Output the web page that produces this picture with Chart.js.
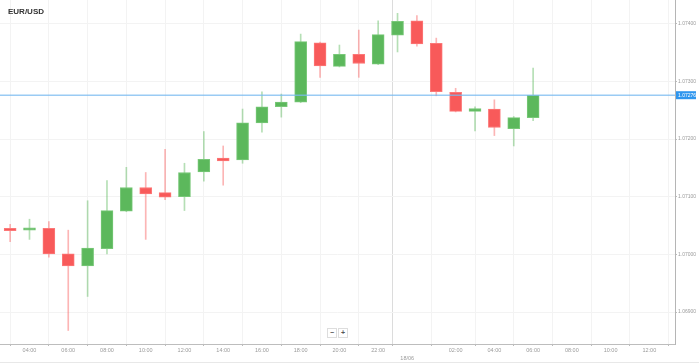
<!DOCTYPE html>
<html><head><meta charset="utf-8">
<script src="https://cdn.jsdelivr.net/npm/chart.js@4/dist/chart.umd.min.js"></script>
<style>
html,body{margin:0;padding:0;background:#fff;}
#wrap{position:relative;width:699px;height:362px;border-bottom:1px solid #e8e8e8;}
#title{position:absolute;left:8px;top:7px;line-height:9px;font:bold 8px "Liberation Sans",Arial,sans-serif;color:#333;}
.zb{position:absolute;top:328px;width:8px;height:8px;border:1px solid #ddd;background:#fff;font:bold 7px "Liberation Sans",sans-serif;color:#555;text-align:center;line-height:8px;}
canvas{display:block;}
</style></head>
<body><div id="wrap"><canvas id="c" width="699" height="362"></canvas><div id="title">EUR/USD</div><div class="zb" style="left:327px">−</div><div class="zb" style="left:338px">+</div></div>
<script>
// hours since 00:00 of 17/06 (03:00 .. 06:00 next day)
const hours  = [3,4,5,6,7,8,9,10,11,12,13,14,15,16,17,18,19,20,21,22,23,24,25,26,27,28,29,30];
const opens  = [1.07045,1.07042,1.07045,1.07001,1.06980,1.07010,1.07075,1.07116,1.07107,1.07100,1.07143,1.07167,1.07164,1.07228,1.07256,1.07264,1.07367,1.07326,1.07347,1.07330,1.07380,1.07405,1.07366,1.07281,1.07248,1.07252,1.07218,1.07237];
const highs  = [1.07052,1.07061,1.07057,1.07042,1.07093,1.07128,1.07151,1.07142,1.07182,1.07158,1.07213,1.07188,1.07252,1.07282,1.07278,1.07382,1.07368,1.07363,1.07389,1.07405,1.07418,1.07414,1.07375,1.07288,1.07256,1.07268,1.07239,1.07323];
const lows   = [1.07022,1.07026,1.06995,1.06868,1.06927,1.07001,1.07074,1.07026,1.07095,1.07076,1.07127,1.07120,1.07158,1.07212,1.07238,1.07263,1.07307,1.07325,1.07307,1.07329,1.07351,1.07361,1.07275,1.07247,1.07214,1.07206,1.07188,1.07232];
const closes = [1.07041,1.07046,1.07001,1.06980,1.07011,1.07076,1.07116,1.07105,1.07099,1.07142,1.07165,1.07162,1.07228,1.07256,1.07264,1.07369,1.07327,1.07347,1.07331,1.07381,1.07404,1.07365,1.07282,1.07248,1.07253,1.07220,1.07237,1.07276];
const currentPrice = 1.07276;
const xTickValues = [4,6,8,10,12,14,16,18,20,22,23.5,26,28,30,32,34,36];
const dayBreak = 23.5;
const dayBreakLabel = '18/06';
const yTickValues = [1.069,1.070,1.071,1.072,1.073,1.074];

const X_MIN = 2.477, X_MAX = 37.325, Y_MIN = 1.068446, Y_MAX = 1.074411;

const up = hours.map((h,i)=>closes[i]>=opens[i]);
const bodyCol = up.map(u=>u?'#5cb85c':'#f85a5a');
const bodyBorder = up.map(u=>u?'rgba(120,200,120,1)':'rgba(252,120,120,1)');
const wickCol = up.map(u=>u?'rgba(92,184,92,0.45)':'rgba(248,90,90,0.45)');

const wickData = hours.map((h,i)=>({x:h,y:[lows[i],highs[i]]}));
const bodyData = hours.map((h,i)=>({x:h,y:[opens[i],closes[i]]}));

const priceLabel = {
  id:'priceLabel',
  afterDatasetsDraw(chart){
    const {ctx, chartArea, scales} = chart;
    const y = scales.y.getPixelForValue(currentPrice);
    ctx.save();
    ctx.fillStyle = '#2f96ee';
    ctx.fillRect(chartArea.right+1, y-4, 20, 8);
    ctx.fillStyle = '#fff';
    ctx.font = '5px "Liberation Sans", Arial, sans-serif';
    ctx.textAlign = 'left';
    ctx.textBaseline = 'middle';
    ctx.fillText(currentPrice.toFixed(5), chartArea.right+3, y+0.5);
    ctx.restore();
  }
};

function noPad(s){ s.paddingTop = 0; s.paddingBottom = 0; s.paddingLeft = 0; s.paddingRight = 0; }

new Chart(document.getElementById('c'), {
  type:'bar',
  data:{
    datasets:[
      {type:'line', data:[{x:X_MIN,y:currentPrice},{x:X_MAX,y:currentPrice}], borderColor:'rgba(120,185,240,0.75)', borderWidth:1.5, pointRadius:0, order:0},
      {data:bodyData, backgroundColor:bodyCol, borderColor:bodyBorder, borderWidth:1, borderSkipped:false, barThickness:12, grouped:false, order:1},
      {data:wickData, backgroundColor:wickCol, borderWidth:0, barThickness:1, grouped:false, order:2}
    ]
  },
  options:{
    responsive:false, animation:false, events:[],
    layout:{padding:0},
    plugins:{legend:{display:false}, tooltip:{enabled:false}, title:{display:false}},
    scales:{
      x:{
        type:'linear', offset:false, min:X_MIN, max:X_MAX,
        afterBuildTicks(s){ s.ticks = xTickValues.map(v=>({value:v})); },
        afterFit(s){ s.height = 18; noPad(s); },
        grid:{color:(c)=> (c.tick && c.tick.value===dayBreak)?'#dcdcdc':'#f3f3f3', tickColor:'#bbb', tickLength:2, drawTicks:true},
        border:{display:true, color:'#bdbdbd', width:1},
        ticks:{
          autoSkip:false, maxRotation:0, padding:1, color:'#9a9a9a',
          font:{size:5.5, family:'"Liberation Sans", Arial, sans-serif', lineHeight:1.35},
          callback(v){
            if (v===dayBreak) return ['', dayBreakLabel];
            const h = ((v%24)+24)%24;
            return String(h).padStart(2,'0')+':00';
          }
        }
      },
      y:{
        position:'right', min:Y_MIN, max:Y_MAX,
        afterBuildTicks(s){ s.ticks = yTickValues.map(v=>({value:v})); },
        afterFit(s){ s.width = 24; noPad(s); },
        grid:{color:'#f3f3f3', tickColor:'#bbb', tickLength:2, drawTicks:true},
        border:{display:true, color:'#b5b5b5', width:1},
        ticks:{
          padding:1, color:'#9a9a9a',
          font:{size:5, family:'"Liberation Sans", Arial, sans-serif'},
          callback(v){ return Number(v).toFixed(5); }
        }
      }
    }
  },
  plugins:[priceLabel]
});
</script>
</body></html>
